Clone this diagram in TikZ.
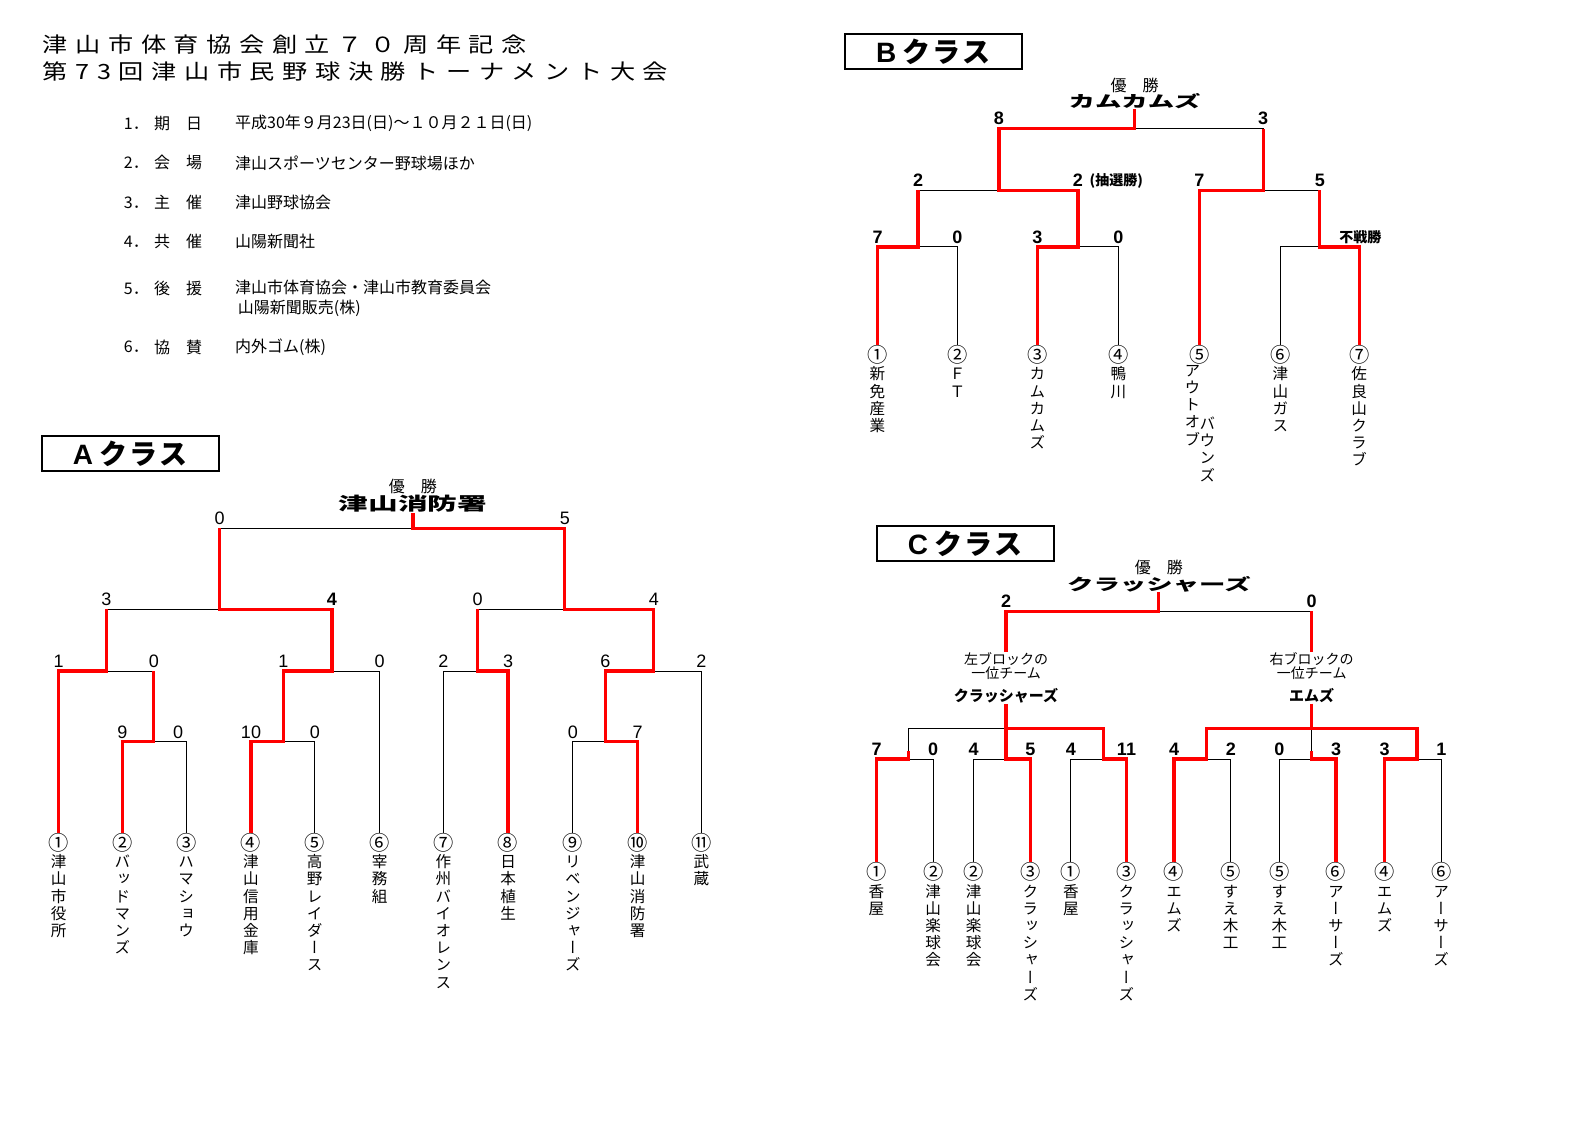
\documentclass[tikz,border=0pt]{standalone}
\usepackage{fontspec}
\setmainfont{Liberation Sans}
\newfontfamily\jp{Noto Sans CJK JP}
\newfontfamily\jpv[RawFeature=+vert]{Noto Sans CJK JP}
\newfontfamily\jphead[FakeStretch=1.2,LetterSpace=36]{Noto Sans CJK JP}
\newfontfamily\jpwide[FakeStretch=1.65]{Noto Sans CJK JP}
\usetikzlibrary{positioning}
\ExplSyntaxOn
\NewDocumentCommand\tate{om}{\vtop{\lineskiplimit=-\maxdimen
  \IfValueT{#1}{\hbox_to_wd:nn{1.1em}{\hss\scalebox{1.3}{#1}\hss}}
  \tl_map_inline:nn{#2}{\hbox_to_wd:nn{1.1em}{\hss##1\hss}}}}
\ExplSyntaxOff

\begin{document}
\begin{tikzpicture}[x=0.50606pt,y=-0.50606pt,
  lose/.style={line width=0.5pt},
  win/.style={draw=red,line width=1.6pt},
  score/.style={anchor=south,inner sep=1pt,font=\fontsize{9}{9}\selectfont},
  bscore/.style={score,font=\bfseries\fontsize{9}{9}\selectfont},
  leaf/.style={anchor=north,inner sep=0pt,font=\jpv\fontsize{7.8}{8.6}\selectfont},
  classbox/.style={draw,line width=1pt,minimum width=88.5pt,minimum height=17.2pt,inner sep=0pt,font=\fontsize{14}{14}\selectfont},
  yusho/.style={inner sep=0pt,font=\jp\fontsize{8}{8}\selectfont},
  champ/.style={inner sep=0pt,font=\jpwide\bfseries\fontsize{8}{8}\selectfont},
  block/.style={align=center,inner sep=0pt,font=\jp\fontsize{7}{6.2}\selectfont},
  info/.style={anchor=west,inner sep=0pt,font=\jp\fontsize{8}{10}\selectfont}]
\path[fill=white,use as bounding box] (0,0) rectangle (1568,1109.6);

\node[anchor=west,inner sep=0pt,font=\jphead\fontsize{10.5}{10.5}\selectfont] (title_1) at (42,44) {津山市体育協会創立７０周年記念};
\node[anchor=west,inner sep=0pt,font=\jphead\fontsize{10.5}{10.5}\selectfont] (title_2) at (42,71) {第73回津山市民野球決勝トーナメント大会};

\node[info] (i_1) at (122,122) {1．};
\node[info] (i_1k) at (152,122) {期　日};
\node[info] (i_1v) at (232,122) {平成30年９月23日(日)～１０月２１日(日)};
\node[info] (i_2) at (122,161) {2．};
\node[info] (i_2k) at (152,161) {会　場};
\node[info] (i_2v) at (232,161) {津山スポーツセンター野球場ほか};
\node[info] (i_3) at (122,200) {3．};
\node[info] (i_3k) at (152,200) {主　催};
\node[info] (i_3v) at (232,200) {津山野球協会};
\node[info] (i_4) at (122,239) {4．};
\node[info] (i_4k) at (152,239) {共　催};
\node[info] (i_4v) at (232,239) {山陽新聞社};
\node[info] (i_5) at (122,285) {5．};
\node[info] (i_5k) at (152,285) {後　援};
\node[info,align=left] (i_5v) at (232,295) {津山市体育協会・津山市教育委員会\\\,山陽新聞販売(株)};
\node[info] (i_6) at (122,343) {6．};
\node[info] (i_6k) at (152,343) {協　賛};
\node[info] (i_6v) at (232,343) {内外ゴム(株)};

\node[classbox] (box_a) at (128.5,448) {{\bfseries A}\kern3pt{\jp\bfseries ク\kern1pt ラ\kern1pt ス}};
\node[yusho] (a_top) at (408,481) {優　勝};
\node[champ,font=\jpwide\bfseries\fontsize{9}{9}\selectfont,below=0pt of a_top] (a_win) {津山消防署};
\node[leaf] (a_1) at (58,823) {\tate[①]{津山市役所}};
\node[leaf] (a_2) at (121,823) {\tate[②]{バッドマンズ}};
\node[leaf] (a_3) at (184,823) {\tate[③]{ハマショウ}};
\node[leaf] (a_4) at (248,823) {\tate[④]{津山信用金庫}};
\node[leaf] (a_5) at (311,823) {\tate[⑤]{高野レイダース}};
\node[leaf] (a_6) at (375,823) {\tate[⑥]{宰務組}};
\node[leaf] (a_7) at (438,823) {\tate[⑦]{作州バイオレンス}};
\node[leaf] (a_8) at (502,823) {\tate[⑧]{日本植生}};
\node[leaf] (a_9) at (566,823) {\tate[⑨]{リベンジャーズ}};
\node[leaf] (a_10) at (630,823) {\tate[⑩]{津山消防署}};
\node[leaf] (a_11) at (693,823) {\tate[⑪]{武蔵}};
\coordinate (a_r1) at (152,733);
\coordinate (a_r2) at (280,733);
\coordinate (a_r3) at (598,733);
\coordinate (a_q1) at (105,663);
\coordinate (a_q2) at (328,663);
\coordinate (a_q3) at (472,663);
\coordinate (a_q4) at (646,663);
\coordinate (a_s1) at (217,602);
\coordinate (a_s2) at (558,602);
\coordinate (a_f) at (408,522);
\draw[lose] (a_2.north) |- (a_r1) -| (a_3.north);
\draw[lose] (a_4.north) |- (a_r2) -| (a_5.north);
\draw[lose] (a_9.north) |- (a_r3) -| (a_10.north);
\draw[lose] (a_1.north) |- (a_q1) -| (a_r1);
\draw[lose] (a_r2) |- (a_q2) -| (a_6.north);
\draw[lose] (a_7.north) |- (a_q3) -| (a_8.north);
\draw[lose] (a_r3) |- (a_q4) -| (a_11.north);
\draw[lose] (a_q1) |- (a_s1) -| (a_q2);
\draw[lose] (a_q3) |- (a_s2) -| (a_q4);
\draw[lose] (a_s1) |- (a_f) -| (a_s2);
\draw[win] (a_1.north) |- (a_q1) -- (a_q1 |- a_s1);
\draw[win] (a_2.north) |- (a_r1) -- (a_r1 |- a_q1);
\draw[win] (a_4.north) |- (a_r2) |- (a_q2) |- (a_s1) -- (a_s1 |- a_f);
\draw[win] (a_8.north) |- (a_q3) -- (a_q3 |- a_s2);
\draw[win] (a_10.north) |- (a_r3) |- (a_q4) |- (a_s2) |- (a_f) -- (a_win.south);
\node[score] (a_n1) at (217,521) {0};
\node[score] (a_n2) at (558,521) {5};
\node[score] (a_n3) at (105,601) {3};
\node[bscore] (a_n4) at (328,601) {4};
\node[score] (a_n5) at (472,601) {0};
\node[score] (a_n6) at (646,601) {4};
\node[score] (a_n7) at (58,662) {1};
\node[score] (a_n8) at (152,662) {0};
\node[score] (a_n9) at (280,662) {1};
\node[score] (a_n10) at (375,662) {0};
\node[score] (a_n11) at (438,662) {2};
\node[score] (a_n12) at (502,662) {3};
\node[score] (a_n13) at (598,662) {6};
\node[score] (a_n14) at (693,662) {2};
\node[score] (a_n15) at (121,732) {9};
\node[score] (a_n16) at (176,732) {0};
\node[score] (a_n17) at (248,732) {10};
\node[score] (a_n18) at (311,732) {0};
\node[score] (a_n19) at (566,732) {0};
\node[score] (a_n20) at (630,732) {7};

\node[classbox] (box_b) at (922,51) {{\bfseries B}\kern3pt{\jp\bfseries ク\kern1pt ラ\kern1pt ス}};
\node[yusho] (b_top) at (1121,84) {優　勝};
\node[champ,below=0pt of b_top] (b_win) {カムカムズ};
\node[leaf] (b_1) at (867,341) {\tate[①]{新免産業}};
\node[leaf] (b_2) at (946,341) {\tate[②]{ＦＴ}};
\node[leaf] (b_3) at (1025,341) {\tate[③]{カムカムズ}};
\node[leaf] (b_4) at (1105,341) {\tate[④]{鴨川}};
\node[leaf] (b_5) at (1185,341) {\tate[⑤]{}};
\node[leaf,below=0pt of b_5,xshift=-3.5pt] (b_5a) {\tate{アウトオブ}};
\node[leaf,below=25.8pt of b_5,xshift=4pt] (b_5b) {\tate{バウンズ}};
\node[leaf] (b_6) at (1265,341) {\tate[⑥]{津山ガス}};
\node[leaf] (b_7) at (1343,341) {\tate[⑦]{佐良山クラブ}};
\coordinate (b_q1) at (907,244);
\coordinate (b_q2) at (1065,244);
\coordinate (b_q3) at (1304,244);
\coordinate (b_s1) at (987,188);
\coordinate (b_s2) at (1248,188);
\coordinate (b_f) at (1121,127);
\draw[lose] (b_1.north) |- (b_q1) -| (b_2.north);
\draw[lose] (b_3.north) |- (b_q2) -| (b_4.north);
\draw[lose] (b_6.north) |- (b_q3) -| (b_7.north);
\draw[lose] (b_q1) |- (b_s1) -| (b_q2);
\draw[lose] (b_5.north) |- (b_s2) -| (b_q3);
\draw[lose] (b_s1) |- (b_f) -| (b_s2);
\draw[win] (b_1.north) |- (b_q1) -- (b_q1 |- b_s1);
\draw[win] (b_3.north) |- (b_q2) |- (b_s1) |- (b_f) -- (b_win.south);
\draw[win] (b_5.north) |- (b_s2) -- (b_s2 |- b_f);
\draw[win] (b_7.north) |- (b_q3) -- (b_q3 |- b_s2);
\node[bscore] (b_n1) at (987,126) {8};
\node[bscore] (b_n2) at (1248,126) {3};
\node[bscore] (b_n3) at (907,187) {2};
\node[bscore] (b_n4) at (1065,187) {2};
\node[inner sep=0pt,font=\jp\bfseries\fontsize{7}{7}\selectfont,right=2pt of b_n4] (b_lot) {(抽選勝)};
\node[bscore] (b_n5) at (1185,187) {7};
\node[bscore] (b_n6) at (1304,187) {5};
\node[bscore] (b_n7) at (867,243) {7};
\node[bscore] (b_n8) at (946,243) {0};
\node[bscore] (b_n9) at (1025,243) {3};
\node[bscore] (b_n10) at (1105,243) {0};
\node[bscore,font=\jp\bfseries\fontsize{7}{7}\selectfont] (b_bye) at (1344,243) {不戦勝};

\node[classbox] (box_c) at (953.5,537) {{\bfseries C}\kern3pt{\jp\bfseries ク\kern1pt ラ\kern1pt ス}};
\node[yusho] (c_top) at (1145,561) {優　勝};
\node[champ,below=0pt of c_top] (c_win) {クラッシャーズ};
\node[block] (c_lt) at (994,658) {左ブロックの\\一位チーム};
\node[champ,font=\jp\bfseries\fontsize{7.5}{7.5}\selectfont,below=4pt of c_lt] (c_lw) {クラッシャーズ};
\node[block] (c_rt) at (1296,658) {右ブロックの\\一位チーム};
\node[champ,font=\jp\bfseries\fontsize{7.5}{7.5}\selectfont,below=4pt of c_rt] (c_rw) {エムズ};
\node[leaf] (c_1) at (866,852) {\tate[①]{香屋}};
\node[leaf] (c_2) at (922,852) {\tate[②]{津山楽球会}};
\node[leaf] (c_3) at (962,852) {\tate[②]{津山楽球会}};
\node[leaf] (c_4) at (1018,852) {\tate[③]{クラッシャーズ}};
\node[leaf] (c_5) at (1058,852) {\tate[①]{香屋}};
\node[leaf] (c_6) at (1113,852) {\tate[③]{クラッシャーズ}};
\node[leaf] (c_7) at (1160,852) {\tate[④]{エムズ}};
\node[leaf] (c_8) at (1216,852) {\tate[⑤]{すえ木工}};
\node[leaf] (c_9) at (1264,852) {\tate[⑤]{すえ木工}};
\node[leaf] (c_10) at (1320,852) {\tate[⑥]{アーサーズ}};
\node[leaf] (c_11) at (1368,852) {\tate[④]{エムズ}};
\node[leaf] (c_12) at (1424,852) {\tate[⑥]{アーサーズ}};
\coordinate (c_p1) at (898,750);
\coordinate (c_p2) at (994,750);
\coordinate (c_p3) at (1090,750);
\coordinate (c_p4) at (1192,750);
\coordinate (c_p5) at (1296,750);
\coordinate (c_p6) at (1400,750);
\coordinate (c_l) at (994,720);
\coordinate (c_r) at (1296,720);
\coordinate (c_f) at (1145,604);
\draw[lose] (c_1.north) |- (c_p1) -| (c_2.north);
\draw[lose] (c_3.north) |- (c_p2) -| (c_4.north);
\draw[lose] (c_5.north) |- (c_p3) -| (c_6.north);
\draw[lose] (c_7.north) |- (c_p4) -| (c_8.north);
\draw[lose] (c_9.north) |- (c_p5) -| (c_10.north);
\draw[lose] (c_11.north) |- (c_p6) -| (c_12.north);
\draw[lose] (c_p1) |- (c_l) -| (c_p3);
\draw[lose] (c_p2) -- (c_l) -- (c_lw.south);
\draw[lose] (c_p4) |- (c_r) -| (c_p6);
\draw[lose] (c_p5) -- (c_r) -- (c_rw.south);
\draw[lose] (c_lt.north) |- (c_f) -| (c_rt.north);
\draw[win] (c_1.north) |- (c_p1) -- ++(0,-8);
\draw[win] (c_4.north) |- (c_p2) -- (c_l);
\draw[win] (c_6.north) |- (c_p3) |- (c_l) -- (c_lw.south);
\draw[win] (c_lt.north) |- (c_f) -- (c_win.south);
\draw[win] (c_7.north) |- (c_p4) |- (c_r) -| (c_p6) -| (c_11.north);
\draw[win] (c_10.north) |- (c_p5) -- ++(0,-8);
\draw[win] (c_rw.south) -- (c_r);
\draw[win] (c_rt.north) -- (c_rt.north |- c_f);
\node[bscore] (c_n1) at (866,749) {7};
\node[bscore] (c_n2) at (922,749) {0};
\node[bscore] (c_n3) at (962,749) {4};
\node[bscore] (c_n4) at (1018,749) {5};
\node[bscore] (c_n5) at (1058,749) {4};
\node[bscore] (c_n6) at (1113,749) {11};
\node[bscore] (c_n7) at (1160,749) {4};
\node[bscore] (c_n8) at (1216,749) {2};
\node[bscore] (c_n9) at (1264,749) {0};
\node[bscore] (c_n10) at (1320,749) {3};
\node[bscore] (c_n11) at (1368,749) {3};
\node[bscore] (c_n12) at (1424,749) {1};
\node[bscore] (c_n13) at (994,603) {2};
\node[bscore] (c_n14) at (1296,603) {0};
\end{tikzpicture}
\end{document}
